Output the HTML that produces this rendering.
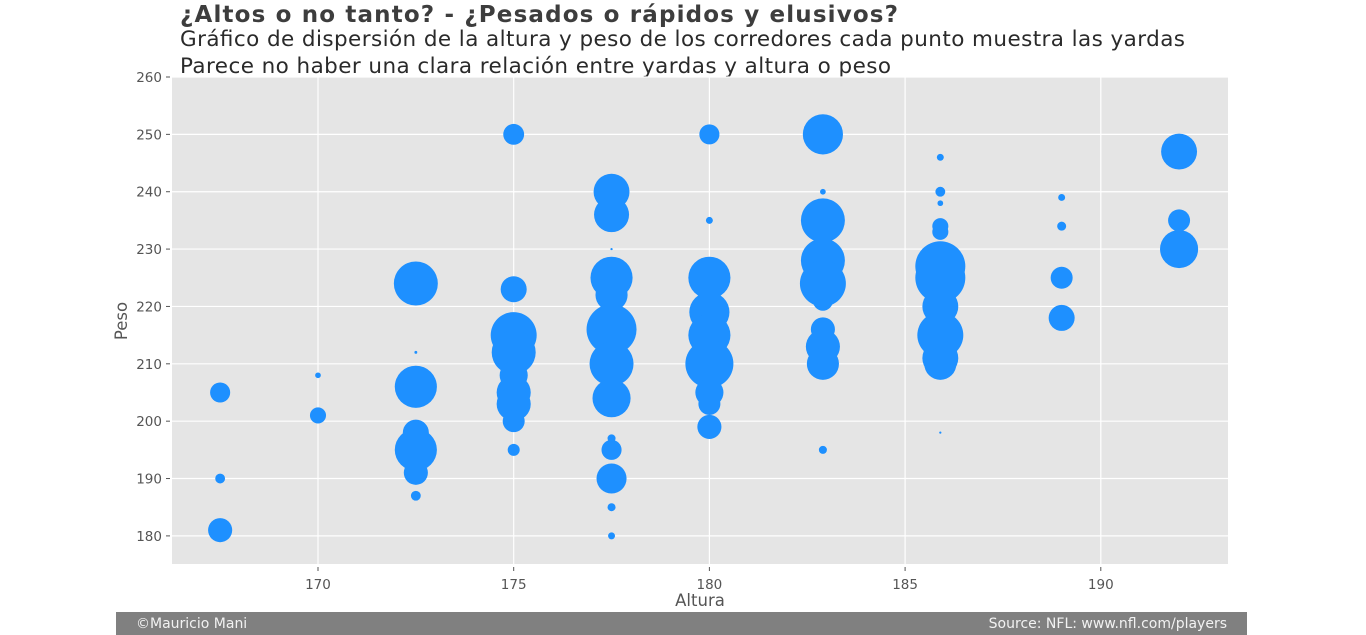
<!DOCTYPE html>
<html><head><meta charset="utf-8"><style>
html,body{margin:0;padding:0;background:#fff;}
svg{display:block;font-family:"DejaVu Sans","Liberation Sans",sans-serif;}
</style></head><body>
<svg id="chart" width="1366" height="635" viewBox="0 0 1366 635">
<text x="180" y="22" font-size="23" font-weight="bold" fill="#3d3d3d" textLength="718">¿Altos o no tanto? - ¿Pesados o rápidos y elusivos?</text>
<text x="180" y="46" font-size="21.5" fill="#2a2a2a" textLength="1005">Gráfico de dispersión de la altura y peso de los corredores cada punto muestra las yardas</text>
<text x="180" y="73" font-size="21.5" fill="#2a2a2a" textLength="711">Parece no haber una clara relación entre yardas y altura o peso</text>
<rect x="172" y="77" width="1056" height="487" fill="#e5e5e5"/>
<g id="grid"></g>
<g id="ticks"></g>
<g id="points"></g>
<text x="700" y="606" font-size="16.5" fill="#555" text-anchor="middle">Altura</text>
<text transform="translate(127,321) rotate(-90)" font-size="16.5" fill="#555" text-anchor="middle">Peso</text>
<rect x="116" y="612" width="1131" height="23" fill="#808080"/>
<text x="136" y="628" font-size="14" fill="#f2f2f2">©Mauricio Mani</text>
<text x="1227" y="628" font-size="14" fill="#f2f2f2" text-anchor="end">Source: NFL: www.nfl.com/players</text>
</svg>
<script>
const xTicks = [170, 175, 180, 185, 190];
const yTicks = [180, 190, 200, 210, 220, 230, 240, 250, 260];
const heights = [167.5,167.5,167.5, 170,170,
 172.5,172.5,172.5,172.5,172.5,172.5,172.5,
 175,175,175,175,175,175,175,175,175,
 177.5,177.5,177.5,177.5,177.5,177.5,177.5,177.5,177.5,177.5,177.5,177.5,177.5,
 180,180,180,180,180,180,180,180,180,180,
 182.9,182.9,182.9,182.9,182.9,182.9,182.9,182.9,182.9,182.9,
 185.9,185.9,185.9,185.9,185.9,185.9,185.9,185.9,185.9,185.9,185.9,185.9,
 189,189,189,189, 192,192,192];
const weights = [205,190,181, 208,201,
 224,212,206,198,195,191,187,
 250,223,215,212,208,205,203,200,195,
 240,236,230,225,222,216,210,204,197,195,190,185,180,
 250,235,226,225,219,215,210,205,203,199,
 250,240,235,228,224,221,216,213,210,195,
 246,240,238,234,233,227,225,220,215,211,210,198,
 239,234,225,218, 247,235,230];
const yards = [250,60,360, 20,160,
 1200,5,1100,420,1100,360,60,
 270,420,1310,1200,490,720,720,300,90,
 800,760,3,1100,640,1550,1200,900,40,250,560,40,30,
 250,30,420,1100,1000,1100,1430,490,300,360,
 1000,20,1200,1200,1310,250,360,720,640,40,
 30,60,20,160,160,1550,1550,800,1310,800,640,3,
 30,50,300,420, 800,300,900];

const X0=172, X1=1228, Y0=77, Y1=564;
const xMin=166.27, xMax=193.25, yMin=175.1, yMax=260;
const xs = v => X0 + (v - xMin) / (xMax - xMin) * (X1 - X0);
const ys = v => Y1 - (v - yMin) / (yMax - yMin) * (Y1 - Y0);
const rs = v => Math.sqrt(v) * 0.635;
const NS = "http://www.w3.org/2000/svg";
const grid = document.getElementById('grid');
const ticks = document.getElementById('ticks');
const pts = document.getElementById('points');
function mk(tag, attrs, parent){const e=document.createElementNS(NS,tag);for(const k in attrs)e.setAttribute(k,attrs[k]);parent.appendChild(e);return e;}
xTicks.forEach(t=>{
  const x=xs(t);
  const g=mk('line',{x1:x,x2:x,y1:Y0,y2:Y1,stroke:'#fff','stroke-width':1.2},grid);
  
  
  mk('line',{x1:x,x2:x,y1:Y1+3,y2:Y1+7,stroke:'#555','stroke-width':1},ticks);
  const tx=mk('text',{x:x,y:Y1+25,'font-size':13.5,fill:'#555','text-anchor':'middle'},ticks);
  tx.textContent=t;
  
  
});
yTicks.forEach(t=>{
  const y=ys(t);
  const g=mk('line',{x1:X0,x2:X1,y1:y,y2:y,stroke:'#fff','stroke-width':1.2},grid);
  
  
  mk('line',{x1:X0-6,x2:X0-2,y1:y,y2:y,stroke:'#555','stroke-width':1},ticks);
  const tx=mk('text',{x:X0-10,y:y+5,'font-size':13.5,fill:'#555','text-anchor':'end'},ticks);
  tx.textContent=t;
  
  
});
heights.forEach((h,i)=>{
  const c=mk('circle',{cx:xs(h),cy:ys(weights[i]),r:rs(yards[i]),fill:'#1e90ff'},pts);
  
  
});
</script>
</body></html>
